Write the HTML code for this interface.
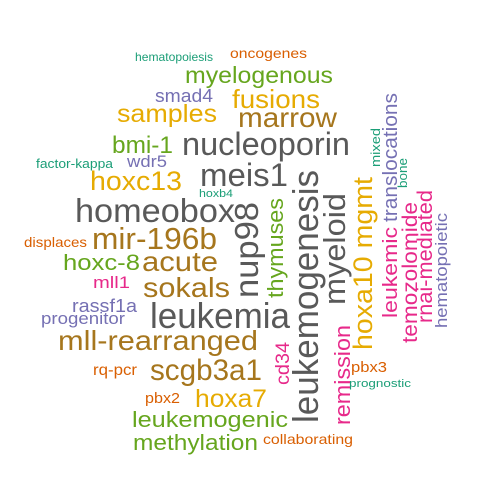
<!DOCTYPE html>
<html><head><meta charset="utf-8"><style>
html,body{margin:0;padding:0;background:#fff;width:500px;height:500px;overflow:hidden}
svg text{font-family:"Liberation Sans",Arial,sans-serif}
</style></head><body>
<svg id="cloud" width="500" height="500" viewBox="0 0 500 500" xmlns="http://www.w3.org/2000/svg"></svg>
<script>
// horizontal words
const hWords = ["hematopoiesis","oncogenes","myelogenous","smad4","fusions","samples","marrow","bmi-1","nucleoporin","factor-kappa","wdr5","meis1","hoxc13","hoxb4","homeobox","mir-196b","displaces","hoxc-8","acute","mll1","sokals","rassf1a","progenitor","leukemia","mll-rearranged","rq-pcr","scgb3a1","pbx2","hoxa7","leukemogenic","methylation","collaborating","pbx3","prognostic"];
const hSizes = [12,14,23,18,26,25,28,24,32,13,17,32,27,11,33,31,14,22,28,17,28,18,17,36,28,16,30,15,25,22,22,14,15,11];
const hColors = ["#1b9e77","#d95f02","#66a61e","#7570b3","#e6ab02","#e6ab02","#a6761d","#66a61e","#595959","#1b9e77","#7570b3","#595959","#e6ab02","#1b9e77","#595959","#a6761d","#d95f02","#66a61e","#a6761d","#e7298a","#a6761d","#7570b3","#7570b3","#595959","#a6761d","#d95f02","#a6761d","#d95f02","#e6ab02","#66a61e","#66a61e","#d95f02","#d95f02","#1b9e77"];
const hX1 = [135,230,185,155,232,117,238,112,182,36,127,200,90,199,75,92,24,63,142,93,143,72,41,150,58,93,150,145,195,132,133,263,351,349];
const hX2 = [213,307,333,213,320,217,337,173,350,113,167,288,182,233,235,217,87,140,218,130,230,137,125,290,258,137,262,180,267,288,258,353,387,411];
const hBase = [61,58,83,102,108,122,127,153,155,168,167,186,190,197,222,249,247,270,271,288,297,312,324,328,350,375,380,403,407,427,450,444,372,387];
// vertical words (read bottom to top)
const vWords = ["nup98","thymuses","leukemogenesis","myeloid","hoxa10 mgmt","leukemic","translocations","mixed","bone","temozolomide","rnai-mediated","hematopoietic","cd34","remission"];
const vSizes = [33,22,36,31,27,20,20,13,13,21,21,17,19,22];
const vColors = ["#595959","#66a61e","#595959","#595959","#e6ab02","#e7298a","#7570b3","#1b9e77","#1b9e77","#e7298a","#e7298a","#7570b3","#e7298a","#e7298a"];
const vBaseX = [258,283,318,345,372,397,397,380,407,417,432,447,289,350];
const vY1 = [298,298,423,305,350,318,222,167,188,343,323,328,385,425];
const vY2 = [202,198,170,193,177,227,93,128,158,202,190,213,342,325];

const svg = document.getElementById('cloud');
const NS = 'http://www.w3.org/2000/svg';
for (let i = 0; i < hWords.length; i++) {
  const t = document.createElementNS(NS, 'text');
  
  
  t.setAttribute('x', hX1[i]);
  t.setAttribute('y', hBase[i]);
  t.setAttribute('font-size', hSizes[i]);
  t.setAttribute('fill', hColors[i]);
  t.setAttribute('textLength', hX2[i] - hX1[i]);
  t.setAttribute('lengthAdjust', 'spacingAndGlyphs');
  t.textContent = hWords[i];
  svg.appendChild(t);
}
for (let i = 0; i < vWords.length; i++) {
  const t = document.createElementNS(NS, 'text');
  
  
  t.setAttribute('x', 0);
  t.setAttribute('y', 0);
  t.setAttribute('transform', 'translate(' + vBaseX[i] + ',' + vY1[i] + ') rotate(-90)');
  t.setAttribute('font-size', vSizes[i]);
  t.setAttribute('fill', vColors[i]);
  t.setAttribute('textLength', vY1[i] - vY2[i]);
  t.setAttribute('lengthAdjust', 'spacingAndGlyphs');
  t.textContent = vWords[i];
  svg.appendChild(t);
}
</script>
</body></html>
